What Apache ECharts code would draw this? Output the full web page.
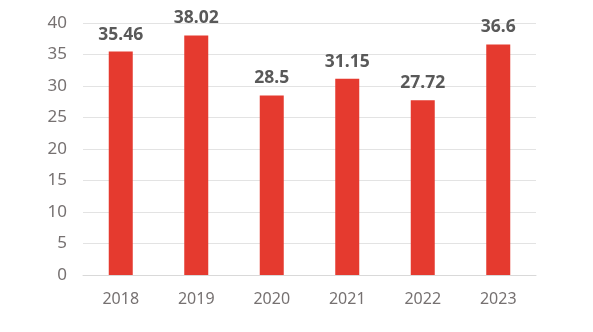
<!DOCTYPE html>
<html><head><meta charset="utf-8">
<script src="https://cdn.jsdelivr.net/npm/echarts@6/dist/echarts.min.js"></script>
<style>html,body{margin:0;padding:0;background:#fff}#c{width:593px;height:332px}</style>
</head><body><div id="c"></div>
<script>
const categories = ['2018','2019','2020','2021','2022','2023'];
const values = [35.46, 38.02, 28.5, 31.15, 27.72, 36.6];
const yTicks = {min: 0, max: 40, interval: 5};

const chart = echarts.init(document.getElementById('c'), null, {renderer: 'canvas'});
const font = "'Noto Sans', sans-serif";
chart.setOption({
  animation: false,
  grid: {left: 83, right: 57, top: 23, bottom: 57},
  xAxis: {
    type: 'category', data: categories,
    axisLine: {show: true, lineStyle: {color: '#d9d9d9'}},
    axisTick: {show: false},
    axisLabel: {color: '#767171', fontSize: 16, fontFamily: font, margin: 16}
  },
  yAxis: {
    type: 'value', min: yTicks.min, max: yTicks.max, interval: yTicks.interval,
    axisLine: {show: false}, axisTick: {show: false},
    splitLine: {lineStyle: {color: '#e3e3e3'}},
    axisLabel: {color: '#767171', fontSize: 17, fontFamily: font, margin: 16}
  },
  series: [{
    type: 'bar', data: values, barWidth: 24,
    itemStyle: {color: '#E53A2F'},
    label: {show: true, position: 'top', distance: 8, color: '#595959', fontSize: 17.5, fontWeight: 'bold', fontFamily: font}
  }]
});
</script></body></html>
